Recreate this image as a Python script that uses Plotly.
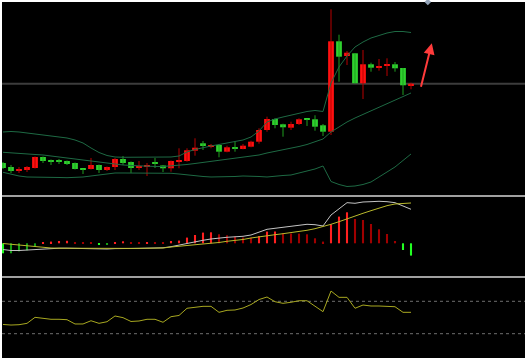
import plotly.graph_objects as go

# ---------------- data ----------------
idx = list(range(52))
open_ = [37,33,29,30,32,43,40,39,39,37,31,31,35,30,33,41,38,32,33,37,34.5,31.7,38.3,39,49.3,56.7,53.3,55,48.3,52.7,51,53.3,
         58.3,70,81,75.7,72.3,76,81,80.7,74.7,68.3,158.7,144,146.7,116.7,135.7,132,134,135.7,132,114]
high = [38,35,33,34,43.5,43.5,40.5,41,39.5,37.5,31,42,35.5,33.5,42,44,38.5,39,37,42,35,39.5,51.7,51.7,61.7,59,56,55.5,54.3,58.3,56,59.3,
        71.7,83.3,81.7,76.3,78.3,81.7,81,84.7,76,190.7,165.3,149,146.7,150,137.3,141,141.7,138,132,117.3]
low = [31,27,27,28,31.5,37,35,36,35,30.5,26,30.5,27,29,30,35,27,30,24,32,28,28.3,31.7,38.3,44.3,50,51.7,42.7,47.7,48.3,50.7,52.7,
       56.3,68.3,71.7,63.3,70,75,74,69.3,64,65,118.3,135,116.7,101,128.3,129.3,124,128.3,105,110.7]
close = [32,29,31,33,43,39,38,38,36,31,30,35,30,33,41,37,32,33,35,36.5,31.7,39,39.7,49.7,52.3,54,55,48.3,52.7,51.7,54.3,58.3,
         70,81,75,72.7,76,80.7,80,73.3,68.3,158.7,143.3,147.3,116.7,135.7,132.3,133,135,131.7,114.7,116.3]

boll_upper = [68,68.5,68,67,66,65,64,63,62,60,57,52,47.5,44.5,43,42.7,42.7,42.5,42.5,42.5,42.7,43,44,48,50.5,52.5,54,55.5,57,58.5,60,63,
              69,78,81,83,85,87,88.5,89.5,88.5,117,133,144,153,158,162,164.5,167,168.5,168.5,167.5]
boll_mid = [47.7,47,46.5,46,45.5,45,44,43,42,41,40,39,37.7,36.5,35.5,35,34.5,34,33.7,33.5,33.5,34,34.7,35.5,36.5,37.5,38.5,39.5,40.5,41.5,42.5,43.5,
            45,47,48.5,50,52,53.5,55.5,58,61,68,73,78,82,85.5,89,92.5,96,99.5,103,107]
boll_lower = [27.7,25.5,24,23,22.7,22.5,22.5,22.5,22.3,22.3,23,24,25,26.5,27,27,27,26.7,27,27,27,26.7,26,25,24,23.5,23,23,23,23.5,24,24,
              23.5,23,24,24.5,25,27,28.5,31,34,18.5,15.5,13.5,14,15.5,18,23,27.5,33,39.5,46]

dif = [-0.62,-0.72,-0.72,-0.67,-0.57,-0.52,-0.50,-0.49,-0.49,-0.52,-0.54,-0.55,-0.57,-0.57,-0.53,-0.50,-0.51,-0.51,-0.49,-0.47,-0.45,-0.34,
       -0.17,0.00,0.16,0.30,0.43,0.53,0.60,0.65,0.70,0.83,1.13,1.40,1.50,1.60,1.73,1.83,1.90,1.86,1.73,2.83,3.40,4.06,4.00,4.13,4.16,4.20,
       4.16,4.06,3.73,3.40]
dea = [-0.02,-0.10,-0.19,-0.27,-0.35,-0.42,-0.47,-0.49,-0.50,-0.50,-0.50,-0.50,-0.51,-0.51,-0.51,-0.51,-0.51,-0.50,-0.50,-0.49,-0.47,-0.37,
       -0.30,-0.20,-0.14,-0.07,0.00,0.08,0.20,0.28,0.38,0.53,0.66,0.80,0.86,0.96,1.06,1.16,1.30,1.46,1.66,1.90,2.16,2.46,2.73,3.00,3.26,3.53,
       3.76,3.93,4.00,4.03]
macd_hist = [-1.0,-1.0,-0.8,-0.7,-0.3,0.1,0.17,0.23,0.25,0.1,0.07,0.07,-0.07,-0.07,0.1,0.2,0.1,0.09,0.13,0.12,0.1,0.23,0.27,0.57,0.83,1.07,
             1.1,0.9,0.8,0.67,0.57,0.56,0.73,1.17,1.18,1.0,0.98,0.97,0.9,0.5,0.17,1.9,2.67,3.1,2.43,2.33,1.93,1.4,0.93,0.23,-0.67,-1.23]

rsi = [41.4,40.7,41.1,42.8,50.2,48.8,47.8,47.8,47.3,42.0,42.0,46.0,42.8,44.8,51.9,49.8,45.1,45.7,47.8,47.8,44.1,51.0,52.5,61.4,62.6,63.8,
       63.8,56.4,58.9,59.3,61.7,66.0,72.2,75.3,69.5,67.5,68.8,70.7,70.7,64.2,57.2,82.7,74.9,74.9,61.4,65.4,64.2,64.2,64.2,63.3,56.4,56.4]
rsi_levels = [70, 30]

# ---------------- styles ----------------
UP_BODY, UP_WICK = "#ff1010", "#b80000"
DN_BODY, DN_WICK = "#2fd22f", "#1f9f1f"
BAND = "#1e6a44"

fig = go.Figure()

# wicks
for up, col in ((True, UP_WICK), (False, DN_WICK)):
    xs, ys = [], []
    for i in idx:
        if (close[i] >= open_[i]) == up:
            xs += [i, i, None]
            ys += [low[i], high[i], None]
    fig.add_trace(go.Scatter(x=xs, y=ys, mode="lines", line=dict(color=col, width=1),
                             hoverinfo="skip", showlegend=False))

# bodies
for up, col in ((True, UP_BODY), (False, DN_BODY)):
    xs, base, h = [], [], []
    for i in idx:
        if (close[i] >= open_[i]) == up:
            xs.append(i)
            base.append(min(open_[i], close[i]))
            h.append(max(abs(close[i] - open_[i]), 1.0))
    fig.add_trace(go.Bar(x=xs, y=h, base=base, width=0.72, marker=dict(color=col, line=dict(width=0)),
                         showlegend=False))

# bollinger
for arr in (boll_upper, boll_mid, boll_lower):
    fig.add_trace(go.Scatter(x=idx, y=arr, mode="lines", line=dict(color=BAND, width=1),
                             showlegend=False))

# MACD histogram
hcols = []
prev = 0
for v in macd_hist:
    if v >= 0:
        hcols.append("#ff2020" if v > prev else "#a00000")
    else:
        hcols.append("#22ff22" if v < prev else "#15a015")
    prev = v
fig.add_trace(go.Bar(x=idx, y=macd_hist, base=0, width=0.26, marker=dict(color=hcols, line=dict(width=0)),
                     yaxis="y2", showlegend=False))
fig.add_trace(go.Scatter(x=idx, y=dif, mode="lines", line=dict(color="#c4c4c4", width=1), yaxis="y2",
                         showlegend=False))
fig.add_trace(go.Scatter(x=idx, y=dea, mode="lines", line=dict(color="#b9b92c", width=1), yaxis="y2",
                         showlegend=False))

# RSI
fig.add_trace(go.Scatter(x=idx, y=rsi, mode="lines", line=dict(color="#a8a820", width=1), yaxis="y3",
                         showlegend=False))

# small marker at top edge
fig.add_trace(go.Scatter(x=[53.1], y=[198], mode="markers", marker=dict(symbol="diamond", size=5, color="#93a3b8"),
                         cliponaxis=False, showlegend=False))

shapes = [
    dict(type="line", xref="paper", x0=0, x1=1, yref="y", y0=close[-1], y1=close[-1],
         line=dict(color="#3c3c3c", width=2), layer="below"),
    dict(type="line", xref="paper", x0=0, x1=1, yref="paper", y0=0.4551, y1=0.4551,
         line=dict(color="#a0a0a0", width=2)),
    dict(type="line", xref="paper", x0=0, x1=1, yref="paper", y0=0.2275, y1=0.2275,
         line=dict(color="#a0a0a0", width=2)),
]
for lv in rsi_levels:
    shapes.append(dict(type="line", xref="paper", x0=0, x1=1, yref="y3", y0=lv, y1=lv,
                       line=dict(color="#6e6e6e", width=1, dash="dot"), layer="below"))

axis_off = dict(visible=False, showgrid=False, zeroline=False, fixedrange=True)
fig.update_layout(
    width=527, height=358,
    margin=dict(l=2, r=2, t=2, b=0),
    paper_bgcolor="#ffffff", plot_bgcolor="#000000",
    barmode="overlay", showlegend=False,
    xaxis=dict(range=[-0.125, 65.25], **axis_off),
    yaxis=dict(domain=[0.4551, 1], range=[4, 198], **axis_off),
    yaxis2=dict(domain=[0.2275, 0.4551], range=[-3.37, 4.73], **axis_off),
    yaxis3=dict(domain=[0, 0.2275], range=[0, 100], **axis_off),
    shapes=shapes,
    annotations=[dict(x=53.6, y=156.7, ax=52.2, ay=111.7, xref="x", yref="y", axref="x", ayref="y",
                      text="", showarrow=True, arrowhead=2, arrowsize=1.1, arrowwidth=2,
                      arrowcolor="#ff3b3b", standoff=0)],
)

fig.write_html("out.html", config={"displayModeBar": False},
               post_script="document.body.style.margin='0';document.body.style.overflow='hidden';")
